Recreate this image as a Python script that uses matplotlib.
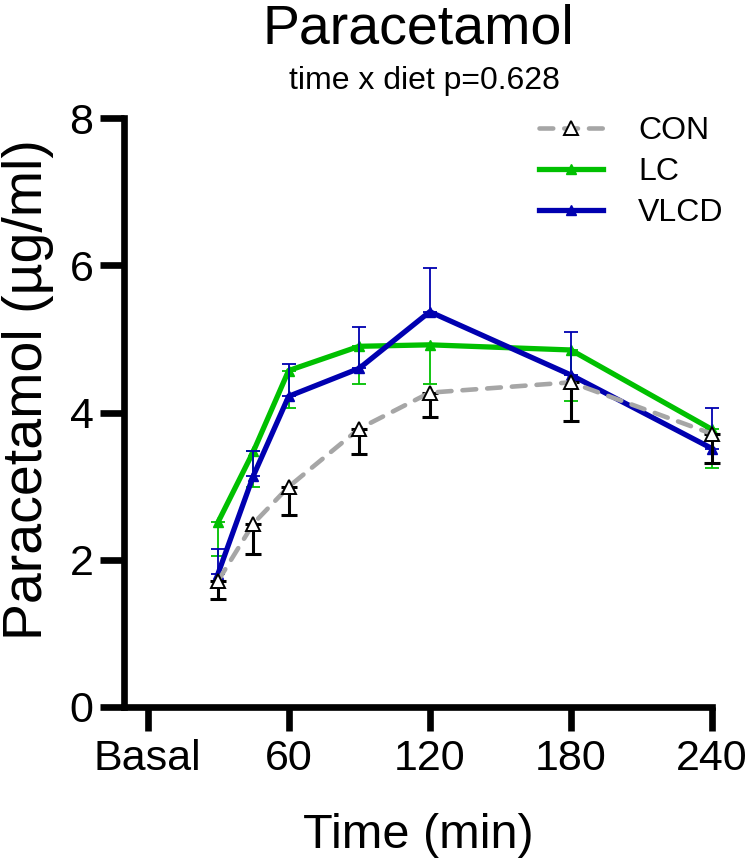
import matplotlib

matplotlib.use("Agg")
import matplotlib.pyplot as plt

plt.rcParams["font.family"] = ["Liberation Sans", "DejaVu Sans"]

# time points (min); "Basal" tick sits at 0
times = [30, 45, 60, 90, 120, 180, 240]
tick_pos = [0, 60, 120, 180, 240]
tick_labels = ["Basal", "60", "120", "180", "240"]

con_mean = [1.71, 2.49, 2.99, 3.78, 4.27, 4.41, 3.71]
con_sem = [0.25, 0.42, 0.38, 0.34, 0.33, 0.52, 0.39]
lc_mean = [2.51, 3.47, 4.57, 4.90, 4.92, 4.85, 3.77]
lc_sem = [0.46, 0.48, 0.51, 0.51, 0.53, 0.70, 0.52]
vlcd_mean = [1.81, 3.14, 4.22, 4.60, 5.37, 4.51, 3.51]
vlcd_sem = [0.33, 0.33, 0.44, 0.56, 0.59, 0.59, 0.55]

C_CON, C_LC, C_VLCD = "#a6a6a6", "#00c000", "#0000b0"

fig = plt.figure(figsize=(7.5, 8.64), dpi=100)
ax = fig.add_axes([124 / 750, 1 - 706.7 / 864, 588 / 750, 588.4 / 864])

zeros = [0] * len(times)
# LC (bottom), error bars downward
ax.errorbar(times, lc_mean, yerr=[lc_sem, zeros], fmt="none", ecolor=C_LC,
            elinewidth=1.3, capsize=5, capthick=1.3, clip_on=False, zorder=2)
ax.plot(times, lc_mean, color=C_LC, lw=3.8, marker="^", ms=7.5, mfc=C_LC, mec=C_LC,
        label="LC", clip_on=False, zorder=3)
# VLCD, error bars upward
ax.errorbar(times, vlcd_mean, yerr=[zeros, vlcd_sem], fmt="none", ecolor=C_VLCD,
            elinewidth=1.3, capsize=5, capthick=1.3, clip_on=False, zorder=4)
ax.plot(times, vlcd_mean, color=C_VLCD, lw=3.8, marker="^", ms=7.5, mfc=C_VLCD, mec=C_VLCD,
        label="VLCD", clip_on=False, zorder=5)
# CON on top, dashed grey with open triangles, black error bars downward
ax.errorbar(times, con_mean, yerr=[con_sem, zeros], fmt="none", ecolor="black",
            elinewidth=2.2, capsize=6, capthick=2.2, clip_on=False, zorder=6)
ax.plot(times, con_mean, color=C_CON, lw=3.3, ls=(0, (3.0, 2.4)), dash_capstyle="round",
        marker="^", ms=9.5, mfc="white", mec="black", mew=1.4, label="CON",
        clip_on=False, zorder=7)

ax.set_xlim(-10, 240)
ax.set_ylim(0, 8)
ax.set_xticks(tick_pos)
ax.set_xticklabels(tick_labels)
ax.set_yticks([0, 2, 4, 6, 8])
for s in ["top", "right"]:
    ax.spines[s].set_visible(False)
for s in ["left", "bottom"]:
    ax.spines[s].set_linewidth(4.8)
ax.tick_params(axis="both", length=17, width=4.8, labelsize=31)
ax.tick_params(axis="x", pad=6)
ax.tick_params(axis="y", pad=5)

h, l = ax.get_legend_handles_labels()
order = [l.index("CON"), l.index("LC"), l.index("VLCD")]
fig.legend([h[i] for i in order], [l[i] for i in order], loc="upper left",
           bbox_to_anchor=(539 / 750, 1 - 116 / 864), frameon=False, fontsize=23,
           handlelength=2.0, handletextpad=1.1, labelspacing=0.35, borderpad=0,
           borderaxespad=0, numpoints=1)

fig.text(418 / 750, 1 - 43 / 864, "Paracetamol", ha="center", va="baseline", fontsize=40)
fig.text(424 / 750, 1 - 89 / 864, "time x diet p=0.628", ha="center", va="baseline", fontsize=23)
fig.text(28 / 750, 1 - 390 / 864, "Paracetamol (µg/ml)", rotation=90, ha="center",
         va="center", fontsize=40)
fig.text(418 / 750, 1 - 848 / 864, "Time (min)", ha="center", va="baseline", fontsize=35)

fig.savefig("out.png", dpi=100)
